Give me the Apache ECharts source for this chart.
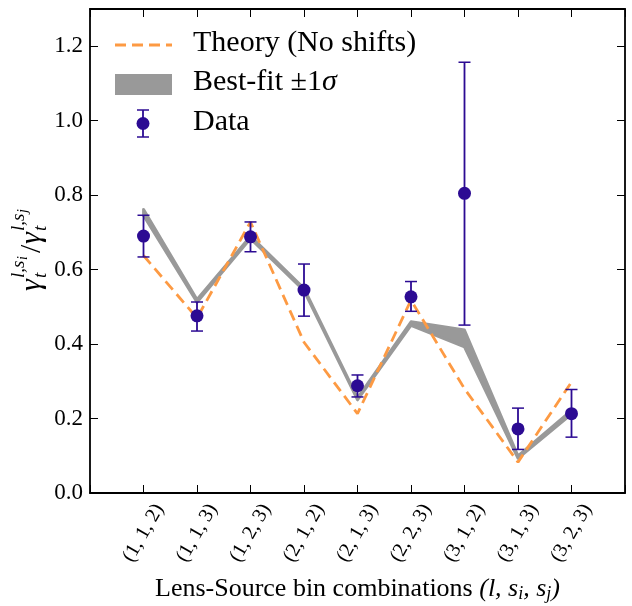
<!DOCTYPE html>
<html>
<head>
<meta charset="utf-8">
<script src="https://cdn.jsdelivr.net/npm/echarts@6/dist/echarts.min.js"></script>
<style>html,body{margin:0;padding:0;background:#fff}#c{width:632px;height:606px}</style>
</head>
<body>
<div id="c"></div>
<script>
// ---- data ----
const tickLabels = ['(1, 1, 2)','(1, 1, 3)','(1, 2, 3)','(2, 1, 2)','(2, 1, 3)','(2, 2, 3)','(3, 1, 2)','(3, 1, 3)','(3, 2, 3)'];
const xs = [1,2,3,4,5,6,7,8,9];
const dataVal  = [0.690,0.476,0.688,0.545,0.288,0.527,0.805,0.172,0.213];
const dataLow  = [0.634,0.435,0.648,0.475,0.258,0.488,0.451,0.117,0.150];
const dataHigh = [0.746,0.513,0.728,0.615,0.317,0.568,1.157,0.228,0.278];
const theory   = [0.638,0.470,0.728,0.405,0.213,0.518,0.280,0.083,0.298];
const bandLow  = [0.745,0.512,0.683,0.543,0.250,0.450,0.392,0.093,0.212];
const bandHigh = [0.762,0.520,0.690,0.550,0.256,0.460,0.438,0.100,0.222];
const yTicks = [0.0,0.2,0.4,0.6,0.8,1.0,1.2];

const SERIF = 'Liberation Serif';
const DATA_C = '#2c0b93';
const ORANGE = '#fd9a43';
const GRAY = '#999999';

const chart = echarts.init(document.getElementById('c'), null, {renderer:'canvas'});

const axisCommon = {
  axisLine:{show:true, onZero:false, lineStyle:{color:'#000', width:1.8}},
  axisTick:{show:true, inside:true, length:8, lineStyle:{color:'#000', width:1}},
  splitLine:{show:false}
};

const option = {
  animation:false,
  grid:{left:90, right:7, top:9, bottom:113, containLabel:false, outerBoundsMode:'none'},
  xAxis:[
    Object.assign({
      type:'value', min:0, max:10, interval:1, position:'bottom',
      axisLabel:{
        formatter:v => (v>=1 && v<=9) ? tickLabels[v-1] : '',
        rotate:60, align:'center', verticalAlign:'middle', margin:40,
        fontFamily:SERIF, fontSize:20, color:'#000'
      },
      name:'Lens-Source bin combinations {m|(l, s}{s|i}{m|, s}{s|j}{m|)}',
      nameLocation:'middle', nameGap:82,
      nameTextStyle:{fontFamily:SERIF, fontSize:26, color:'#000', verticalAlign:'top',
        rich:{m:{fontFamily:SERIF, fontStyle:'italic', fontSize:26, color:'#000'},
              s:{fontFamily:SERIF, fontStyle:'italic', fontSize:18, color:'#000', padding:[10,0,0,0]}}}
    }, axisCommon),
    Object.assign({
      type:'value', min:0, max:10, interval:1, position:'top',
      axisLabel:{show:false}
    }, axisCommon)
  ],
  yAxis:[
    Object.assign({
      type:'value', min:0, max:1.3, interval:0.2, position:'left',
      axisLabel:{formatter:v => yTicks.indexOf(Math.round(v*10)/10) >= 0 ? v.toFixed(1) : '',
        showMaxLabel:false, margin:7, fontFamily:SERIF, fontSize:23, color:'#000'}
    }, axisCommon),
    Object.assign({
      type:'value', min:0, max:1.3, interval:0.2, position:'right',
      axisLabel:{show:false}
    }, axisCommon)
  ],
  series:[
    {
      type:'custom', name:'band', clip:true, z:1,
      data:[[5,0.5]],
      renderItem:(params, api) => {
        const up = xs.map((x,i)=>api.coord([x,bandHigh[i]]));
        const lo = xs.map((x,i)=>api.coord([x,bandLow[i]])).reverse();
        return {type:'polygon', shape:{points:up.concat(lo)},
          style:{fill:GRAY, stroke:GRAY, lineWidth:2.8, lineJoin:'round'}};
      }
    },
    {
      type:'line', name:'theory', z:2,
      data:xs.map((x,i)=>[x,theory[i]]),
      symbol:'none',
      lineStyle:{color:ORANGE, width:2.8, type:[11,6]}
    },
    {
      type:'custom', name:'errors', z:3, clip:false,
      data:xs.map((x,i)=>[x,dataLow[i],dataHigh[i]]),
      renderItem:(params, api) => {
        const x = api.value(0);
        const a = api.coord([x, api.value(1)]);
        const b = api.coord([x, api.value(2)]);
        const cw = 6;
        return {type:'group', children:[
          {type:'line', shape:{x1:a[0],y1:a[1],x2:b[0],y2:b[1]}, style:{stroke:DATA_C, lineWidth:1.8}},
          {type:'line', shape:{x1:a[0]-cw,y1:a[1],x2:a[0]+cw,y2:a[1]}, style:{stroke:DATA_C, lineWidth:1.5}},
          {type:'line', shape:{x1:b[0]-cw,y1:b[1],x2:b[0]+cw,y2:b[1]}, style:{stroke:DATA_C, lineWidth:1.5}}
        ]};
      }
    },
    {
      type:'scatter', name:'Data', z:4,
      data:xs.map((x,i)=>[x,dataVal[i]]),
      symbol:'circle', symbolSize:13,
      itemStyle:{color:DATA_C, opacity:1}
    }
  ],
  graphic:[
    // legend
    {type:'line', shape:{x1:115,y1:45,x2:172,y2:45}, style:{stroke:ORANGE, lineWidth:2.8, lineDash:[11,6]}, z:10},
    {type:'text', left:193, top:28, style:{text:'Theory (No shifts)', font:'30px "Liberation Serif"', fill:'#000'}, z:10},
    {type:'rect', shape:{x:115,y:74,width:57,height:21}, style:{fill:GRAY}, z:10},
    {type:'text', left:193, top:67, style:{text:'Best-fit ±1{i|σ}', font:'30px "Liberation Serif"', fill:'#000',
       rich:{i:{fontFamily:SERIF, fontStyle:'italic', fontSize:30}}}, z:10},
    {type:'line', shape:{x1:143,y1:110,x2:143,y2:137}, style:{stroke:DATA_C, lineWidth:1.8}, z:10},
    {type:'line', shape:{x1:137,y1:110,x2:149,y2:110}, style:{stroke:DATA_C, lineWidth:1.5}, z:10},
    {type:'line', shape:{x1:137,y1:137,x2:149,y2:137}, style:{stroke:DATA_C, lineWidth:1.5}, z:10},
    {type:'circle', shape:{cx:143,cy:123.5,r:6.5}, style:{fill:DATA_C}, z:10},
    {type:'text', left:193, top:107, style:{text:'Data', font:'30px "Liberation Serif"', fill:'#000'}, z:10},
    // y-axis label
    {type:'group', x:32, y:250, rotation:Math.PI/2, z:10, children:[
      {type:'text', x:-41, y:0, style:{text:'γ', font:'italic 30px "Liberation Serif"', fill:'#000', verticalAlign:'middle'}},
      {type:'text', x:-28, y:9, style:{text:'t', font:'italic 19px "Liberation Serif"', fill:'#000', verticalAlign:'middle'}},
      {type:'text', x:-28, y:-13, style:{text:'l,s', font:'italic 19px "Liberation Serif"', fill:'#000', verticalAlign:'middle'}},
      {type:'text', x:-10, y:-9, style:{text:'i', font:'italic 14px "Liberation Serif"', fill:'#000', verticalAlign:'middle'}},
      {type:'text', x:-3, y:0, style:{text:'/', font:'30px "Liberation Serif"', fill:'#000', verticalAlign:'middle'}},
      {type:'text', x:6, y:0, style:{text:'γ', font:'italic 30px "Liberation Serif"', fill:'#000', verticalAlign:'middle'}},
      {type:'text', x:19, y:9, style:{text:'t', font:'italic 19px "Liberation Serif"', fill:'#000', verticalAlign:'middle'}},
      {type:'text', x:19, y:-13, style:{text:'l,s', font:'italic 19px "Liberation Serif"', fill:'#000', verticalAlign:'middle'}},
      {type:'text', x:37, y:-9, style:{text:'j', font:'italic 14px "Liberation Serif"', fill:'#000', verticalAlign:'middle'}}
    ]}
  ]
};
chart.setOption(option);
</script>
</body>
</html>
